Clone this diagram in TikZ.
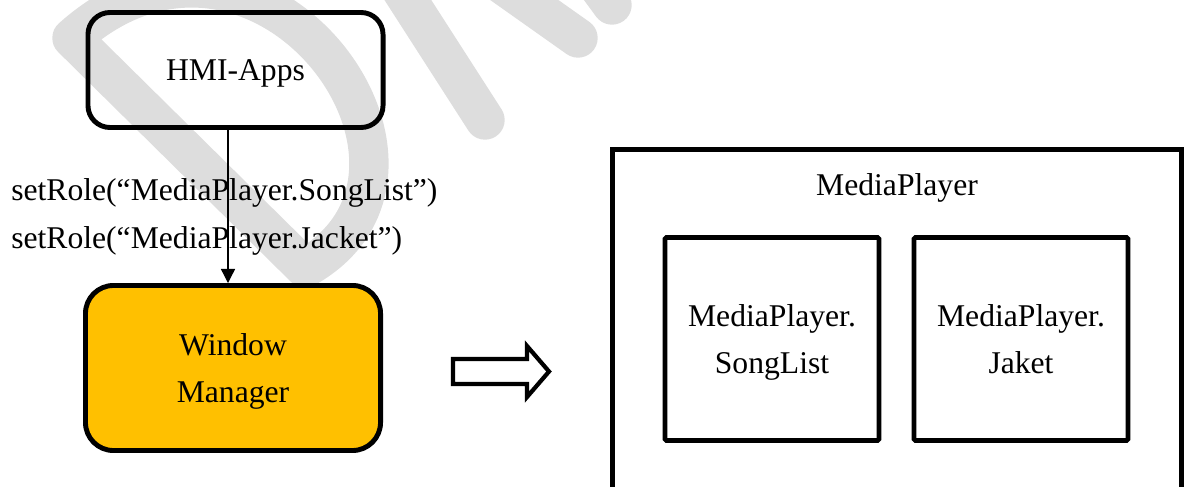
\documentclass[tikz,border=0pt]{standalone}
\usepackage{fontspec}
\setmainfont{Liberation Serif}
\usetikzlibrary{positioning,calc,arrows.meta}

\definecolor{wmyellow}{RGB}{255,192,0}
\definecolor{draftgray}{RGB}{221,221,221}
\newcommand{\figfont}{\fontsize{22.5}{33}\selectfont}

\begin{document}
\begin{tikzpicture}[x=0.025cm, y=-0.025cm]
            \tikzstyle{rbox}=[rectangle, draw, line width=3.5pt, inner sep=0pt, text depth=0pt, align=center, font=\figfont]
            \tikzstyle{sbox}=[rectangle, draw, line width=3.3pt, rounded corners=1pt, inner sep=0pt, text depth=0pt, align=center, font=\figfont]
            \tikzstyle{txt}=[inner sep=0pt, font=\figfont]
            \tikzstyle{draftline}=[draftgray, line width=28pt, line cap=round, line join=round]

            \useasboundingbox (0,0) rectangle (1187,486);
            \clip (0,0) rectangle (1187,486);

            % watermark in the back
            \draw[draftline] (72,38) -- (305,268) .. controls (480,170) and (260,-130) .. cycle;
            \draw[draftline] (395,-20) -- (485,120);
            \draw[draftline] (496,-20) -- (578,38);
            \draw[draftline] (590,-25) -- (612,5);

            \node[rbox, rounded corners=0.55cm, minimum width=7.375cm, minimum height=2.875cm] (hmi) at (235.5,70) {HMI-Apps};
            \node[rbox, rounded corners=0.7cm, fill=wmyellow, minimum width=7.375cm, minimum height=4.125cm] (wm) at (233,368) {Window\\Manager};

            \coordinate (ax) at (228,0);
            \draw[-{Triangle[length=10pt,width=10pt]}, line width=0.9pt] (hmi.south -| ax) -- (wm.north -| ax);

            \node[txt, anchor=base west] (role1) at (11,200) {setRole(“MediaPlayer.SongList”)};
            \node[txt, anchor=base west] (role2) at (11,248) {setRole(“MediaPlayer.Jacket”)};

            % block arrow
            \draw[line width=3pt, fill=white] (453,359) -- (527,359) -- (527,346) -- (549,371.5)
                -- (527,397) -- (527,384) -- (453,384) -- cycle;

            \node[sbox, rounded corners=0pt, minimum width=14.225cm, minimum height=8.75cm] (mp) at (897,324.5) {};
            \node[txt, anchor=base] (mptitle) at (897,195) {MediaPlayer};

            \node[sbox, minimum width=5.35cm, minimum height=5.075cm] (songlist) at (772,339) {MediaPlayer.\\SongList};
            \node[sbox, minimum width=5.35cm, minimum height=5.075cm] (jaket) at (1021,339) {MediaPlayer.\\Jaket};
        \end{tikzpicture}
\end{document}
